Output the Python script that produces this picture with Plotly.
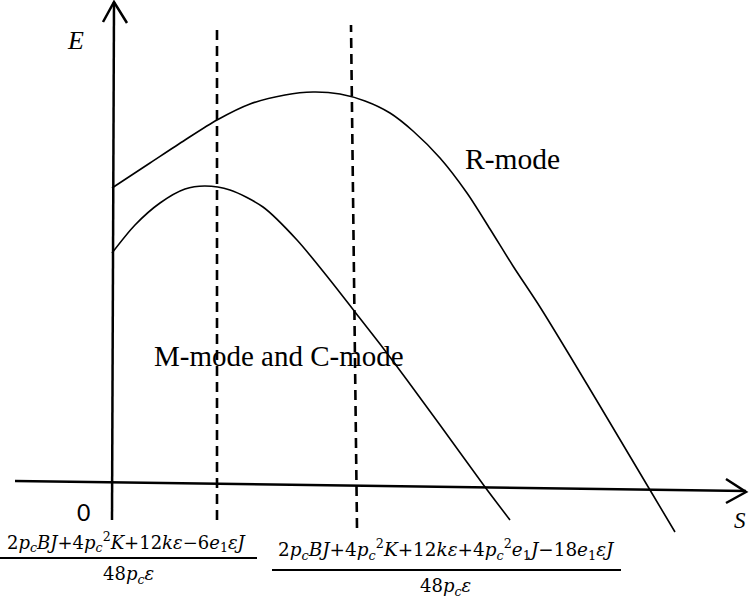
import plotly.graph_objects as go

# Schematic values.
# s: horizontal axis, E: vertical axis; origin at the crossing of the two axes (1 unit ~ 1 px).
r_mode_s = [0, 38, 73, 105, 138, 173, 201, 228, 253, 278, 301, 328, 355, 378, 401, 428, 458, 488, 538, 563]
r_mode_E = [299, 324, 347, 367, 383, 392, 395, 393, 386, 374, 356, 329, 294, 258, 221, 180, 131, 81, -3, -45]

mc_mode_s = [0, 23, 48, 73, 93, 118, 151, 185, 218, 243, 268, 295, 328, 373, 398]
mc_mode_E = [234, 262, 284, 298, 301, 297, 280, 247, 207, 175, 143, 107, 62, 0, -33]

# the two threshold values of s (dashed lines), bottom and top
threshold_s = [[105, 105], [245, 239]]
threshold_E = [[-33, 462], [-41, 462]]

# axes of the sketch
s_axis_s = [-97, 634]
s_axis_E = [6, -4]
E_axis_s = [0, 2]
E_axis_E = [-33, 485]
s_arrow_s = [614, 634, 614]
s_arrow_E = [8, -5, -16]
E_arrow_s = [-9, 2, 15]
E_arrow_E = [465, 485, 464]

curve_labels = ["R-mode", "M-mode and C-mode"]
axis_labels = ["<i>E</i>", "<i>S</i>", "0"]

num1 = ("2<i>p</i><sub><i>c</i></sub><i>BJ</i>+4<i>p</i><sub><i>c</i></sub><sup>2</sup><i>K</i>"
        "+12<i>kε</i>−6<i>e</i><sub>1</sub><i>εJ</i>")
num2 = ("2<i>p</i><sub><i>c</i></sub><i>BJ</i>+4<i>p</i><sub><i>c</i></sub><sup>2</sup><i>K</i>"
        "+12<i>kε</i>+4<i>p</i><sub><i>c</i></sub><sup>2</sup><i>e</i><sub>1</sub><i>J</i>"
        "−18<i>e</i><sub>1</sub><i>εJ</i>")
den = "48<i>p</i><sub><i>c</i></sub><i>ε</i>"

BLACK = "#000000"

fig = go.Figure()


def add_line(xs, ys, width, dash=None):
    fig.add_trace(go.Scatter(
        x=xs, y=ys, mode="lines",
        line=dict(color=BLACK, width=width, dash=dash),
        hoverinfo="skip", showlegend=False,
    ))


# axes with open arrow heads
add_line(s_axis_s, s_axis_E, 2.5)
add_line(E_axis_s, E_axis_E, 2.5)
add_line(s_arrow_s, s_arrow_E, 2.5)
add_line(E_arrow_s, E_arrow_E, 2.5)

# dashed thresholds
for xs, ys in zip(threshold_s, threshold_E):
    add_line(xs, ys, 2.6, dash="10px,6px")

# curves
fig.add_trace(go.Scatter(x=r_mode_s, y=r_mode_E, mode="lines",
                         line=dict(color=BLACK, width=1.6, shape="spline", smoothing=0.8),
                         hoverinfo="skip", showlegend=False))
fig.add_trace(go.Scatter(x=mc_mode_s, y=mc_mode_E, mode="lines",
                         line=dict(color=BLACK, width=1.6, shape="spline", smoothing=0.8),
                         hoverinfo="skip", showlegend=False))

# fraction bars
add_line([-112, 145], [-71, -71], 1.8)
add_line([160, 509], [-83, -83], 1.8)

serif = "Liberation Serif"
math = "DejaVu Serif"
ann = []
ann.append(dict(x=400, y=328, text=curve_labels[0], font=dict(family=serif, size=29.5, color=BLACK)))
ann.append(dict(x=167, y=131, text=curve_labels[1], font=dict(family=serif, size=29, color=BLACK)))
ann.append(dict(x=-37, y=447, text=axis_labels[0], font=dict(family=serif, size=26, color=BLACK)))
ann.append(dict(x=628, y=-33, text=axis_labels[1], font=dict(family=serif, size=23, color=BLACK)))
ann.append(dict(x=-29, y=-25, text=axis_labels[2], font=dict(family="Lato", size=23, color=BLACK)))
ann.append(dict(x=15, y=-55, text=num1, font=dict(family=math, size=18, color=BLACK)))
ann.append(dict(x=16, y=-88, text=den, font=dict(family=math, size=18, color=BLACK)))
ann.append(dict(x=334, y=-62, text=num2, font=dict(family=math, size=18.4, color=BLACK)))
ann.append(dict(x=333, y=-100, text=den, font=dict(family=math, size=18, color=BLACK)))
for a in ann:
    a.update(xref="x", yref="y", showarrow=False, xanchor="center", yanchor="middle")

fig.update_layout(
    width=750, height=600,
    margin=dict(l=0, r=0, t=0, b=0),
    paper_bgcolor="white", plot_bgcolor="white",
    xaxis=dict(range=[-112, 638], visible=False, fixedrange=True),
    yaxis=dict(range=[-113, 487], visible=False, fixedrange=True),
    annotations=ann,
    showlegend=False,
)

fig.write_html(
    "out.html",
    config={"displayModeBar": False},
    post_script="document.body.style.margin='0';document.body.style.overflow='hidden';",
)
